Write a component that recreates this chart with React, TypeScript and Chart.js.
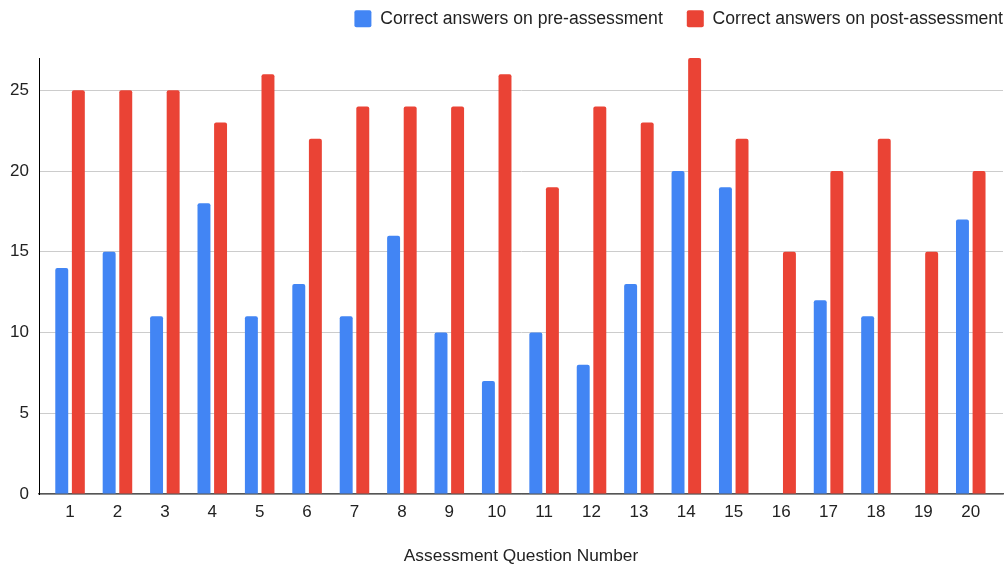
import React, { useEffect, useRef } from "react";
import { Chart, registerables } from "chart.js";

Chart.register(...registerables);

const questions = [1, 2, 3, 4, 5, 6, 7, 8, 9, 10, 11, 12, 13, 14, 15, 16, 17, 18, 19, 20];
const preScores = [14, 15, 11, 18, 11, 13, 11, 16, 10, 7, 10, 8, 13, 20, 19, null, 12, 11, null, 17];
const postScores = [25, 25, 25, 23, 26, 22, 24, 24, 24, 26, 19, 24, 23, 27, 22, 15, 20, 22, 15, 20];
const yTicks = [0, 5, 10, 15, 20, 25];

const FONT = "'Liberation Sans', Arial, sans-serif";
const LEGEND_PAD = 24;

export default function App() {
  const ref = useRef<HTMLCanvasElement | null>(null);

  useEffect(() => {
    if (!ref.current) return;
    const legendTweak = {
      id: "legendTweak",
      beforeInit(chart: any) {
        const orig = chart.legend.fit;
        chart.legend.fit = function () {
          orig.bind(this)();
          this.height = 58;
        };
      },
      afterLayout(chart: any) {
        const lg = chart.legend;
        lg.left += LEGEND_PAD;
        lg.right += LEGEND_PAD;
        lg.top -= 14;
        lg.bottom -= 14;
      },
    };
    const chart = new Chart(ref.current, {
      type: "bar",
      data: {
        labels: questions,
        datasets: [
          {
            label: "Correct answers on pre-assessment",
            data: preScores,
            backgroundColor: "#4285F4",
            borderRadius: { topLeft: 2, topRight: 2 },
            borderSkipped: "bottom",
            categoryPercentage: 0.7,
            barPercentage: 0.78,
          },
          {
            label: "Correct answers on post-assessment",
            data: postScores,
            backgroundColor: "#EA4335",
            borderRadius: { topLeft: 2, topRight: 2 },
            borderSkipped: "bottom",
            categoryPercentage: 0.7,
            barPercentage: 0.78,
          },
        ] as any,
      },
      plugins: [legendTweak],
      options: {
        animation: false,
        responsive: false,
        maintainAspectRatio: false,
        layout: { padding: { top: 0, right: 4, left: 0, bottom: 0 } },
        plugins: {
          tooltip: { enabled: false },
          legend: {
            position: "top",
            align: "end",
            labels: {
              boxWidth: 17,
              boxHeight: 17,
              padding: LEGEND_PAD,
              color: "#222",
              font: { family: FONT, size: 17.6 },
              useBorderRadius: true,
              borderRadius: 2,
            } as any,
          },
        },
        scales: {
          x: {
            type: "linear",
            offset: false,
            min: 0.345,
            max: 20.68,
            grid: { display: false },
            border: { display: true, color: "#555", width: 1.5 },
            afterBuildTicks: (axis: any) => {
              axis.ticks = questions.map((v) => ({ value: v }));
            },
            afterFit: (scale: any) => {
              scale.height = 73;
            },
            ticks: {
              autoSkip: false,
              maxRotation: 0,
              padding: 0,
              color: "#222",
              font: { family: FONT, size: 17 },
              callback: (v: any) => String(v),
            },
            title: {
              display: true,
              text: "Assessment Question Number",
              color: "#222",
              font: { family: FONT, size: 17.3 },
              padding: { top: 4, bottom: 0 },
            },
          },
          y: {
            min: 0,
            max: 27,
            afterBuildTicks: (axis: any) => {
              axis.ticks = yTicks.map((v) => ({ value: v }));
            },
            afterFit: (scale: any) => {
              scale.width = 39;
            },
            grid: { color: "#cccccc", lineWidth: 1, drawTicks: false },
            border: { display: true, color: "#000", width: 1 },
            ticks: {
              padding: 10,
              color: "#222",
              font: { family: FONT, size: 17 },
            },
          },
        },
      } as any,
    });
    return () => chart.destroy();
  }, []);

  return (
    <div style={{ position: "fixed", left: 0, top: 0, width: 1007, height: 567, background: "#fff" }}>
      <canvas ref={ref} width={1007} height={567} style={{ width: 1007, height: 567 }} />
    </div>
  );
}
